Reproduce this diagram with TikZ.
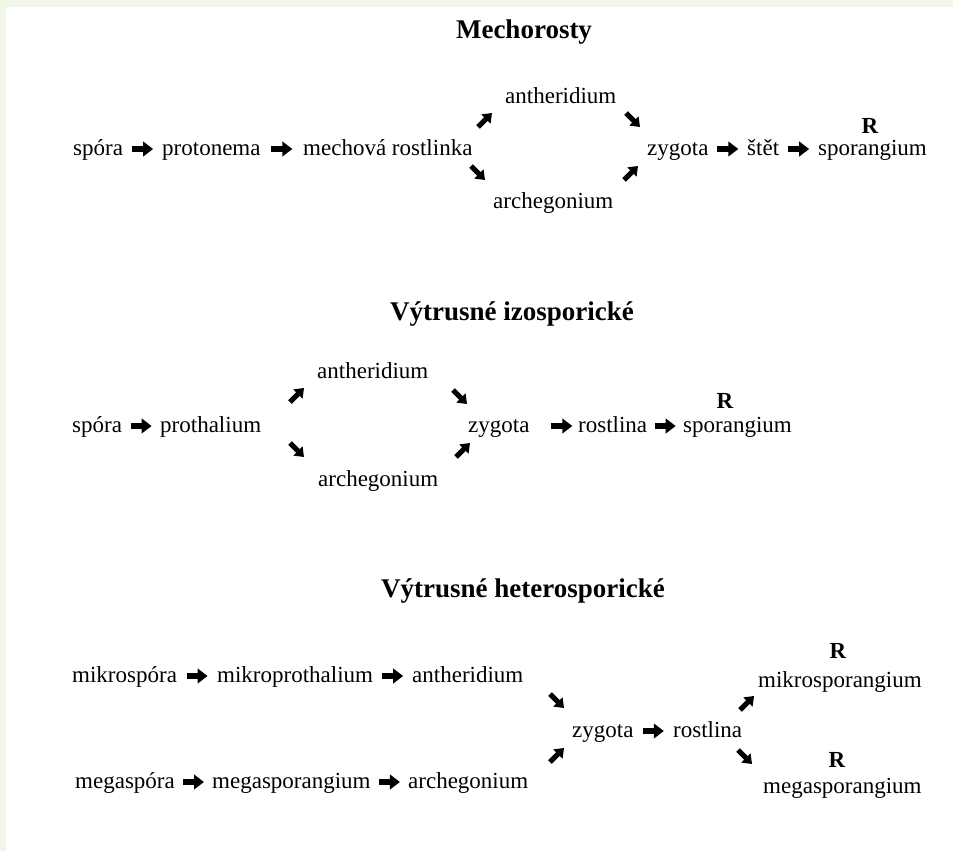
\documentclass[tikz,border=0pt]{standalone}
\usepackage{fontspec}
\setmainfont{Liberation Serif}
\usetikzlibrary{arrows.meta,calc}
\definecolor{pagegreen}{RGB}{240,246,232}
\tikzset{
  word/.style={anchor=base west, inner sep=0pt, font=\fontsize{23}{27}\selectfont},
  rmark/.style={anchor=base, inner sep=0pt, font=\fontsize{23}{27}\selectfont\bfseries},
  title/.style={anchor=base, inner sep=0pt, font=\fontsize{27}{32}\selectfont\bfseries},
  harrow/.style={line width=5.5pt, -{Triangle[width=14.5pt,length=10pt]}},
  darrow/.style={line width=5pt, -{Triangle[width=12.5pt,length=8.5pt]}},
}
% heavy horizontal arrow, 21pt long, centred in the gap between two word nodes
\newcommand\harr[3][0]{\draw[harrow] ($(#2.base east)!0.5!(#3.base west)+(#1-10.5,-6)$) -- ++(21,0);}
\begin{document}
\begin{tikzpicture}[x=1pt,y=-1pt]
\useasboundingbox (0,0) rectangle (953,851);
\fill[pagegreen] (0,0) rectangle (953,851);
\fill[white] (6,7) rectangle (953,851);

% ---------- Mechorosty ----------
\node[title] (t1) at (524,39) {Mechorosty};
\node[word] (spora1) at (73,155) {spóra};
\node[word] (proto) at (162,155) {protonema};
\node[word] (mech) at (303,155) {mechová rostlinka};
\node[word] (anth1) at (505,103) {antheridium};
\node[word] (arch1) at (493,208) {archegonium};
\node[word] (zyg1) at (647,155) {zygota};
\node[word] (stet) at (747,155) {štět};
\node[word] (spor1) at (818,155) {sporangium};
\node[rmark] (r1) at (870,133) {R};
\harr{spora1}{proto}
\harr{proto}{mech}
\harr{zyg1}{stet}
\harr{stet}{spor1}
\coordinate (a1s) at (478,127); \coordinate (a1e) at (492,113);
\coordinate (a2s) at (471,166); \coordinate (a2e) at (485,180);
\coordinate (a3s) at (626,113); \coordinate (a3e) at (640,127);
\coordinate (a4s) at (624,180); \coordinate (a4e) at (638,166);
\draw[darrow] (a1s) -- (a1e);
\draw[darrow] (a2s) -- (a2e);
\draw[darrow] (a3s) -- (a3e);
\draw[darrow] (a4s) -- (a4e);

% ---------- Výtrusné izosporické ----------
\node[title] (t2) at (512,320) {Výtrusné izosporické};
\node[word] (spora2) at (72,432) {spóra};
\node[word] (proth) at (160,432) {prothalium};
\node[word] (anth2) at (317,378) {antheridium};
\node[word] (arch2) at (318,486) {archegonium};
\node[word] (zyg2) at (468,432) {zygota};
\node[word] (rost2) at (578,432) {rostlina};
\node[word] (spor2) at (683,432) {sporangium};
\node[rmark] (r2) at (725,408) {R};
\harr{spora2}{proth}
\harr[8]{zyg2}{rost2}
\harr{rost2}{spor2}
\coordinate (b1s) at (290,402); \coordinate (b1e) at (304,388);
\coordinate (b2s) at (290,443); \coordinate (b2e) at (304,457);
\coordinate (b3s) at (453,390); \coordinate (b3e) at (467,404);
\coordinate (b4s) at (456,457); \coordinate (b4e) at (470,443);
\draw[darrow] (b1s) -- (b1e);
\draw[darrow] (b2s) -- (b2e);
\draw[darrow] (b3s) -- (b3e);
\draw[darrow] (b4s) -- (b4e);

% ---------- Výtrusné heterosporické ----------
\node[title] (t3) at (523,597) {Výtrusné heterosporické};
\node[word] (mikrosp) at (72,682) {mikrospóra};
\node[word] (mikroproth) at (217,682) {mikroprothalium};
\node[word] (anth3) at (412,682) {antheridium};
\node[word] (megasp) at (75,788) {megaspóra};
\node[word] (megaspor) at (212,788) {megasporangium};
\node[word] (arch3) at (408,788) {archegonium};
\node[word] (zyg3) at (572,737) {zygota};
\node[word] (rost3) at (673,737) {rostlina};
\node[word] (mikrosporang) at (758,687) {mikrosporangium};
\node[word] (megasporang) at (763,793) {megasporangium};
\node[rmark] (r3) at (838,658) {R};
\node[rmark] (r4) at (837,767) {R};
\harr{mikrosp}{mikroproth}
\harr{mikroproth}{anth3}
\harr{megasp}{megaspor}
\harr{megaspor}{arch3}
\harr{zyg3}{rost3}
\coordinate (c1s) at (550,694); \coordinate (c1e) at (564,708);
\coordinate (c2s) at (550,762); \coordinate (c2e) at (564,748);
\coordinate (c3s) at (740,710); \coordinate (c3e) at (754,696);
\coordinate (c4s) at (738,750); \coordinate (c4e) at (752,764);
\draw[darrow] (c1s) -- (c1e);
\draw[darrow] (c2s) -- (c2e);
\draw[darrow] (c3s) -- (c3e);
\draw[darrow] (c4s) -- (c4e);
\end{tikzpicture}
\end{document}
